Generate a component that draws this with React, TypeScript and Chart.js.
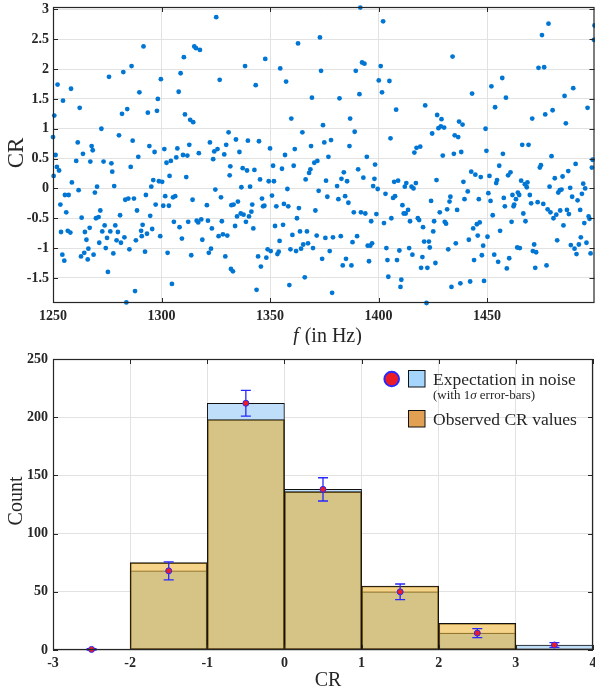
import React, { useEffect, useRef } from 'react';
import { Chart, registerables } from 'chart.js';

Chart.register(...registerables);

const SERIF = '"Liberation Serif", "Times New Roman", Times, serif';
const INK = '#262626';

// ---------- Top panel: CR vs frequency ----------
const freqSeg1 = [
  1250.0, 1250.3, 1250.6, 1251.2, 1251.8, 1252.1, 1252.8, 1253.4, 1253.7, 1254.3,
  1254.6, 1255.2, 1255.5, 1256.1, 1256.8, 1257.2, 1258.0, 1258.3, 1258.7, 1260.7,
  1261.4, 1261.8, 1262.3, 1262.9, 1263.2, 1263.8, 1264.4, 1264.7, 1265.4, 1266.0,
  1266.3, 1266.9, 1267.2, 1267.8, 1268.3, 1268.7, 1269.3, 1269.8, 1270.3, 1271.0,
  1271.3, 1271.8, 1272.3, 1272.7, 1273.3, 1273.8, 1274.3, 1274.9, 1275.3, 1275.8,
  1276.4, 1276.9, 1277.3, 1277.8, 1278.2, 1278.7, 1279.3, 1279.9, 1280.4, 1280.9,
  1281.3, 1281.8, 1282.4, 1282.9, 1283.3, 1283.8, 1284.2, 1284.7, 1285.2, 1285.8,
  1286.2, 1286.7, 1287.3, 1287.8, 1288.2, 1288.7, 1289.3, 1289.8,
];
const crSeg1 = [
  0.86, 0.21, 1.22, 0.56, 0.36, 1.74, 0.30, -0.27, -0.73, -1.11,
  1.47, -1.21, -0.11, -0.40, -0.71, -0.11, -0.74, 1.67, 0.10, 0.46,
  0.77, -0.03, 1.35, -1.14, -0.49, 0.58, -1.08, -0.73, -0.86, -1.19,
  -1.01, -0.66, 0.45, 0.71, 0.64, -1.11, -0.07, -0.50, 0.03, -0.48,
  -0.91, -0.37, 1.00, -0.72, 0.45, -0.62, -1.00, -0.83, -1.40, 1.87,
  -0.72, 0.42, 0.28, -1.09, 0.04, -0.62, -0.87, -0.73, 0.89, -0.45,
  -0.91, 1.25, 1.95, -0.82, -0.19, -1.91, 1.33, -0.17, -1.02, 0.36,
  2.05, 0.80, -0.17, -1.72, -0.87, -0.37, 0.53, 1.61,
];

const freqSeg2 = [
  1290.6, 1290.9, 1291.3, 1291.7, 1292.4, 1292.8, 1293.3, 1293.7, 1294.4, 1294.8,
  1295.3, 1295.7, 1296.2, 1296.8, 1297.3, 1297.9, 1298.3, 1298.8, 1299.4, 1299.7,
  1300.3, 1300.8, 1301.3, 1301.7, 1302.3, 1302.8, 1303.4, 1303.7, 1304.3, 1304.8,
  1305.3, 1305.7, 1306.3, 1306.8, 1307.3, 1307.9, 1308.3, 1308.8, 1309.4, 1309.9,
  1310.3, 1310.8, 1311.4, 1311.9, 1312.3, 1312.8, 1313.2, 1313.7, 1314.3, 1314.6,
  1315.1, 1315.9, 1316.2, 1316.9, 1317.2, 1317.7, 1318.3, 1318.8, 1320.9, 1321.4,
  1321.8, 1322.3, 1322.8, 1323.2, 1323.8, 1324.3, 1324.8, 1325.2, 1325.8, 1326.3,
  1326.8, 1327.4, 1327.8, 1328.3, 1328.9, 1329.4, 1329.8, 1330.3, 1330.9, 1331.4,
];
const crSeg2 = [
  -0.71, -0.80, -0.61, 2.38, -1.06, -0.11, -0.76, 1.27, 0.71, -0.46,
  0.03, -0.68, 0.14, 0.61, -0.27, 1.30, 1.50, 0.12, -0.80, 1.83,
  0.11, -0.29, 0.66, -0.13, 0.43, -1.08, -0.29, 0.21, 0.46, -1.60,
  -0.15, -0.56, -0.13, 0.52, 0.67, 1.62, -0.65, 1.93, -0.84, 0.56,
  2.20, 1.24, 0.19, 0.55, -0.56, 0.73, 1.15, -1.12, -0.19, 1.11,
  2.38, 2.35, -0.54, -0.57, 0.59, 2.32, -0.52, -0.86, -0.28, -0.54,
  -1.08, 0.77, -1.01, -0.67, 0.49, 0.62, -0.02, 2.87, 0.66, -0.80,
  1.82, -0.15, -0.55, -0.77, 0.57, -1.14, 0.73, -0.79, 0.94, 0.22,
];

const freqSeg3 = [
  1331.7, 1332.0, 1332.2, 1332.9, 1333.2, 1333.9, 1334.3, 1334.8, 1335.2, 1335.9,
  1336.5, 1336.8, 1337.4, 1337.8, 1338.5, 1338.9, 1339.4, 1339.8, 1340.3, 1340.8,
  1341.4, 1341.8, 1342.3, 1342.8, 1343.4, 1343.8, 1344.5, 1344.9, 1345.4, 1345.8,
  1346.3, 1346.8, 1347.4, 1347.8, 1348.3, 1348.9, 1349.4, 1350.0, 1350.3, 1350.9,
  1351.4, 1351.8, 1352.3, 1352.9, 1353.4, 1354.0, 1354.4, 1354.7, 1355.5, 1356.0,
  1356.4, 1356.9, 1357.4, 1358.0, 1358.4, 1358.9, 1359.4, 1359.8, 1360.3, 1360.9,
  1361.4, 1362.0, 1362.4, 1362.9, 1363.3, 1363.8, 1364.3, 1364.9, 1365.3, 1366.0,
  1366.4, 1367.0, 1367.5, 1368.0, 1368.6, 1368.9, 1369.3, 1369.8, 1370.4, 1370.9,
  1371.5, 1371.8, 1372.4, 1373.0,
];
const crSeg3 = [
  0.37, -1.35, -0.28, -1.39, -0.27, -0.63, 0.82, -0.47, -0.22, 0.61,
  -0.42, 0.02, 0.34, -0.44, 2.05, -0.56, 0.30, 0.80, -0.47, 0.03,
  -0.39, -0.27, -0.67, 0.31, 1.73, -1.70, -1.14, 0.79, 0.15, -1.31,
  -0.17, -0.30, -0.29, 2.17, -1.16, -1.02, 0.12, 0.67, -1.05, -0.12,
  0.38, 0.12, -0.63, -0.30, -1.10, -1.06, -0.88, 2.01, 0.33, -0.61,
  -0.26, 0.56, 1.79, -0.01, -0.30, -1.62, -1.02, 1.17, -0.78, 0.38,
  0.66, -1.05, -0.50, 2.43, -0.33, -0.72, -1.01, 0.94, -0.94, -1.49,
  0.15, -0.72, -0.92, 0.26, 0.32, 0.71, 1.52, -1.00, 0.43, -0.37,
  -0.79, 0.46, -0.04, 2.53,
];

const freqSeg4 = [
  1373.5, 1374.0, 1374.4, 1375.0, 1375.5, 1375.8, 1376.4, 1376.9, 1377.5, 1378.1,
  1378.6, 1379.0, 1380.9, 1381.5, 1382.0, 1382.6, 1382.9, 1383.5, 1384.0, 1384.6,
  1385.0, 1385.5, 1386.1, 1386.6, 1386.9, 1387.5, 1388.0, 1388.6, 1389.0, 1389.5,
  1390.1, 1390.6, 1391.2, 1391.6, 1391.9, 1392.4, 1393.0, 1393.5, 1393.9, 1394.6,
  1395.0, 1395.6, 1396.2, 1396.6, 1397.0, 1397.5, 1398.1, 1398.4, 1399.0, 1399.6,
  1400.1, 1401.0, 1401.6, 1402.1, 1402.5, 1403.2, 1403.6, 1404.1, 1404.5, 1405.0,
  1405.5, 1405.9, 1406.7, 1407.2, 1407.6, 1408.1, 1408.5, 1409.0, 1409.6, 1410.1,
  1410.5, 1411.0, 1411.6, 1412.1, 1412.5, 1412.8, 1413.6, 1414.1, 1414.5,
];
const crSeg4 = [
  1.97, -1.18, 1.06, 0.77, -0.83, 0.13, -0.14, 0.53, -1.05, 0.81,
  -1.75, -0.82, 0.04, -0.18, 1.51, -0.80, 0.16, -1.29, 0.27, -0.13,
  -1.18, 0.12, -0.24, 0.71, 1.17, -1.29, -0.90, -0.40, 0.95, 1.97,
  -0.80, 0.32, 1.58, 3.03, -0.40, 2.11, 0.18, 2.09, -0.42, 0.53,
  -0.96, -1.22, -0.96, -0.55, -0.92, 0.04, 0.16, 0.40, -0.43, -0.01,
  1.81, 2.05, 1.61, 2.80, -0.58, -0.09, -1.00, -1.20, -1.48, 1.80,
  0.84, -0.50, -0.16, 0.11, -0.13, 1.32, -1.20, 0.13, -1.04, -1.65,
  -1.53, -0.28, -0.42, 0.03, -0.42, 0.09, -0.36, -1.00, -0.55,
];

const freqSeg5 = [
  1415.2, 1415.6, 1416.1, 1416.5, 1417.2, 1417.5, 1418.1, 1418.7, 1419.2, 1419.6,
  1420.2, 1420.5, 1421.0, 1421.5, 1422.1, 1422.5, 1423.2, 1423.6, 1424.2, 1424.7,
  1425.2, 1425.6, 1426.2, 1426.7, 1427.0, 1427.6, 1428.2, 1428.7, 1429.0, 1429.6,
  1430.2, 1430.5, 1431.1, 1431.6, 1432.1, 1432.7, 1433.1, 1433.6, 1434.1, 1434.7,
  1435.1, 1435.6, 1436.2, 1436.7, 1437.1, 1437.7, 1438.1, 1438.7, 1439.1, 1439.6,
  1441.1, 1441.6, 1442.2, 1442.7, 1443.1, 1443.6, 1444.0, 1444.6, 1445.3, 1445.7,
  1446.2, 1446.6, 1447.1, 1447.6, 1448.2, 1448.6, 1449.3, 1449.7, 1450.2, 1450.6,
  1451.1, 1451.6, 1452.0, 1452.6, 1453.3, 1453.7, 1454.2, 1454.6, 1455.1, 1455.6,
  1456.0,
];
const crSeg5 = [
  0.03, -1.11, 0.00, 0.60, 0.09, 0.68, -0.50, -0.53, 0.70, -1.33,
  -1.15, -0.65, -0.89, 1.39, -1.92, -1.33, -0.89, -0.99, -0.21, 0.92,
  -0.72, -0.55, -1.25, 0.14, 1.23, 1.01, -0.40, 1.04, 1.16, 0.55,
  1.02, -0.56, -0.59, -0.35, -1.02, -0.22, -0.14, -1.65, 2.21, 0.58,
  0.89, -0.92, -0.36, 0.86, 1.12, -1.59, 0.61, 1.07, 0.11, -0.18,
  -0.05, -0.86, -1.56, 0.28, 1.59, -0.67, -1.20, 0.23, -0.60, -0.79,
  -0.18, -0.57, 0.19, -1.12, -0.96, -1.55, 1.00, 0.63, -0.81, -0.08,
  0.21, -0.21, 1.71, -0.45, -1.11, 1.36, 0.09, 0.14, -1.23, 0.38,
  -0.71,
];

const freqSeg6 = [
  1457.0, 1457.3, 1457.7, 1458.2, 1458.7, 1459.1, 1459.7, 1460.2, 1460.8, 1461.3,
  1461.7, 1462.2, 1462.5, 1463.3, 1463.9, 1464.2, 1464.8, 1465.1, 1465.7, 1466.2,
  1466.7, 1467.4, 1467.7, 1468.3, 1468.6, 1469.1, 1469.7, 1470.3, 1470.8, 1471.1,
  1471.7, 1472.2, 1472.6, 1473.3, 1473.7, 1474.3, 1474.8, 1475.3, 1475.9, 1476.3,
  1476.8, 1477.4, 1477.9, 1478.3, 1478.8, 1479.2, 1479.7, 1480.2, 1480.6, 1481.2,
  1481.9, 1482.3, 1482.8, 1483.5, 1483.7, 1484.3, 1484.8, 1485.2, 1485.7, 1486.3,
  1486.8, 1487.4, 1487.7, 1488.3, 1488.6, 1489.2, 1489.7, 1490.3, 1490.8, 1491.2,
  1491.7, 1492.3, 1492.9, 1493.2, 1493.7, 1494.3, 1494.8, 1495.2, 1495.8, 1496.3,
  1496.8, 1497.2, 1497.7, 1498.3, 1498.6, 1499.2, 1499.5,
];
const crSeg6 = [
  1.85, 0.58, -0.16, -0.30, 1.52, -1.34, 0.22, -1.17, 0.27, -0.56,
  -0.11, -0.30, -0.27, -0.18, -0.99, -0.07, -0.11, -1.00, 0.13, 0.73,
  -0.42, 0.07, -0.55, 0.02, 0.10, 0.73, -0.11, -0.25, 1.17, -1.05,
  -0.94, -1.33, -1.07, -0.23, 2.02, 0.35, 0.39, 2.57, -0.26, 2.03,
  1.24, -1.29, -0.35, 2.76, 0.03, -0.40, 0.54, 1.31, -0.50, 0.17,
  -0.44, -0.87, -0.07, -0.03, -0.37, -0.02, 0.20, -0.62, 1.55, 1.09,
  -0.36, 0.29, -0.43, 0.01, -0.95, -0.14, 1.68, -1.01, 0.41, -1.10,
  -0.20, -0.94, -0.36, -0.82, -0.09, 0.08, -0.58, 0.00, -0.91, 1.35,
  -0.47, -0.51, -1.09, 0.35, 0.48, 2.49, 2.73,
];

const freqTicks = [1250, 1300, 1350, 1400, 1450];
const crTicks = [-1.5, -1, -0.5, 0, 0.5, 1, 1.5, 2, 2.5, 3];

// ---------- Bottom panel: histogram ----------
const binCenters = [-2.5, -1.5, -0.5, 0.5, 1.5, 2.5, 3.5];
const expectedCounts = [0.5, 68, 212, 138, 50, 14.5, 4.3];
const expectedErr = [0.7, 7.7, 11, 10, 6.7, 3.8, 2.1];
const observedCounts = [0, 75, 198, 136, 55, 23, 1];
const histXTicks = [-3, -2, -1, 0, 1, 2, 3, 4];
const histYTicks = [0, 50, 100, 150, 200, 250];

const freqAll = [...freqSeg1, ...freqSeg2, ...freqSeg3, ...freqSeg4, ...freqSeg5, ...freqSeg6];
const crAll = [...crSeg1, ...crSeg2, ...crSeg3, ...crSeg4, ...crSeg5, ...crSeg6];

const tickFont = { family: SERIF, size: 14, weight: 'bold' as const };

function boxPlugin(id: string) {
  return {
    id,
    afterDatasetsDraw(chart: any) {
      const { ctx, chartArea: a, scales } = chart;
      ctx.save();
      ctx.strokeStyle = INK;
      ctx.lineWidth = 1;
      const tl = 5;
      ctx.beginPath();
      scales.x.ticks.forEach((t: any) => {
        const px = Math.round(scales.x.getPixelForValue(t.value)) + 0.5;
        ctx.moveTo(px, a.bottom); ctx.lineTo(px, a.bottom - tl);
        ctx.moveTo(px, a.top); ctx.lineTo(px, a.top + tl);
      });
      scales.y.ticks.forEach((t: any) => {
        const py = Math.round(scales.y.getPixelForValue(t.value)) + 0.5;
        ctx.moveTo(a.left, py); ctx.lineTo(a.left + tl, py);
        ctx.moveTo(a.right, py); ctx.lineTo(a.right - tl, py);
      });
      ctx.stroke();
      ctx.lineWidth = 1.2;
      ctx.strokeRect(a.left + 0.5, a.top + 0.5, a.right - a.left - 1, a.bottom - a.top - 1);
      ctx.restore();
    },
  };
}

const titlesTop = {
  id: 'titlesTop',
  afterDraw(chart: any) {
    const ctx = chart.ctx;
    ctx.save();
    ctx.fillStyle = INK;
    ctx.font = `23px ${SERIF}`;
    ctx.textAlign = 'center';
    ctx.textBaseline = 'alphabetic';
    ctx.translate(22.5, 153);
    ctx.rotate(-Math.PI / 2);
    ctx.fillText('CR', 0, 0);
    ctx.restore();

    ctx.save();
    ctx.fillStyle = INK;
    ctx.textBaseline = 'alphabetic';
    ctx.textAlign = 'left';
    ctx.font = `italic 20px ${SERIF}`;
    const w1 = ctx.measureText('f').width;
    ctx.font = `20px ${SERIF}`;
    const w2 = ctx.measureText(' (in Hz)').width;
    const x0 = 327 - (w1 + w2) / 2;
    ctx.font = `italic 20px ${SERIF}`;
    ctx.fillText('f', x0, 342);
    ctx.font = `20px ${SERIF}`;
    ctx.fillText(' (in Hz)', x0 + w1 + 1, 342);
    ctx.restore();
  },
};

const RED = 'rgb(236,28,36)';
const BLUE = 'rgb(40,40,255)';

const errorBars = {
  id: 'errorBars',
  beforeDatasetDraw(chart: any, args: any) {
    if (args.index !== 2) return;
    const { ctx, scales } = chart;
    ctx.save();
    ctx.strokeStyle = BLUE;
    ctx.lineWidth = 1.3;
    ctx.beginPath();
    binCenters.forEach((c, i) => {
      const x = scales.x.getPixelForValue(c);
      const yTop = scales.y.getPixelForValue(expectedCounts[i] + expectedErr[i]);
      const yBot = scales.y.getPixelForValue(Math.max(0, expectedCounts[i] - expectedErr[i]));
      ctx.moveTo(x, yTop); ctx.lineTo(x, yBot);
      ctx.moveTo(x - 5, yTop); ctx.lineTo(x + 5, yTop);
      ctx.moveTo(x - 5, yBot); ctx.lineTo(x + 5, yBot);
    });
    ctx.stroke();
    ctx.restore();
  },
};

const titlesBottom = {
  id: 'titlesBottom',
  afterDraw(chart: any) {
    const ctx = chart.ctx;
    ctx.save();
    ctx.fillStyle = INK;
    ctx.font = `20px ${SERIF}`;
    ctx.textAlign = 'center';
    ctx.textBaseline = 'alphabetic';
    ctx.translate(21.5, 156);
    ctx.rotate(-Math.PI / 2);
    ctx.fillText('Count', 0, 0);
    ctx.restore();

    ctx.save();
    ctx.fillStyle = INK;
    ctx.font = `20px ${SERIF}`;
    ctx.textAlign = 'center';
    ctx.textBaseline = 'alphabetic';
    ctx.fillText('CR', 328, 340.5);
    ctx.restore();

    // legend
    ctx.save();
    ctx.beginPath();
    ctx.arc(391.7, 34, 7.3, 0, Math.PI * 2);
    ctx.fillStyle = RED;
    ctx.fill();
    ctx.lineWidth = 2;
    ctx.strokeStyle = BLUE;
    ctx.stroke();

    ctx.lineWidth = 1;
    ctx.strokeStyle = '#111';
    ctx.fillStyle = 'rgb(165,213,252)';
    ctx.fillRect(408.5, 25.5, 16.5, 16.5);
    ctx.strokeRect(408.5, 25.5, 16.5, 16.5);
    ctx.fillStyle = 'rgb(226,160,82)';
    ctx.fillRect(408.5, 65.5, 16.5, 16.5);
    ctx.strokeRect(408.5, 65.5, 16.5, 16.5);

    ctx.fillStyle = INK;
    ctx.textAlign = 'left';
    ctx.textBaseline = 'alphabetic';
    ctx.font = `17.5px ${SERIF}`;
    ctx.fillText('Expectation in noise', 433, 40);
    ctx.fillText('Observed CR values', 433, 80);
    ctx.font = `13px ${SERIF}`;
    const a = '(with 1';
    ctx.fillText(a, 433, 54);
    let x = 433 + ctx.measureText(a).width;
    ctx.font = `italic 13px ${SERIF}`;
    ctx.fillText('σ', x, 54);
    x += ctx.measureText('σ').width;
    ctx.font = `13px ${SERIF}`;
    ctx.fillText(' error-bars)', x, 54);
    ctx.restore();
  },
};

export default function App() {
  const topRef = useRef<HTMLCanvasElement>(null);
  const botRef = useRef<HTMLCanvasElement>(null);

  useEffect(() => {
    const n = Math.min(freqAll.length, crAll.length);
    const points = [];
    for (let i = 0; i < n; i++) points.push({ x: freqAll[i], y: crAll[i] });

    const gridColor = '#e2e2e2';

    const topChart = new Chart(topRef.current as HTMLCanvasElement, {
      type: 'scatter',
      data: {
        datasets: [
          {
            label: 'CR',
            data: points,
            pointRadius: 2.4,
            pointBackgroundColor: 'rgb(0,118,212)',
            pointBorderWidth: 0,
            clip: false as any,
          },
        ],
      },
      options: {
        responsive: false,
        animation: false,
        devicePixelRatio: 1,
        events: [],
        layout: { padding: { left: 0, top: 7, right: 0.5, bottom: 0 }, autoPadding: false } as any,
        plugins: { legend: { display: false }, tooltip: { enabled: false } },
        scales: {
          x: {
            type: 'linear',
            min: 1250,
            max: 1499.5,
            afterBuildTicks: (s: any) => { s.ticks = freqTicks.map((v) => ({ value: v })); },
            afterFit: (s: any) => { s.height = 42; s.paddingLeft = 0; s.paddingRight = 0; },
            grid: { color: gridColor, drawTicks: false },
            border: { display: false },
            ticks: { font: tickFont, color: INK, padding: 5, autoSkip: false, maxRotation: 0, callback: (v: any) => String(v) },
          },
          y: {
            type: 'linear',
            min: -1.92,
            max: 3.04,
            afterBuildTicks: (s: any) => { s.ticks = crTicks.map((v) => ({ value: v })); },
            afterFit: (s: any) => { s.width = 53; s.paddingTop = 0; s.paddingBottom = 0; },
            grid: { color: gridColor, drawTicks: false },
            border: { display: false },
            ticks: { font: tickFont, color: INK, padding: 4, autoSkip: false, callback: (v: any) => String(v) },
          },
        },
      },
      plugins: [boxPlugin('boxTop'), titlesTop],
    });

    const botChart = new Chart(botRef.current as HTMLCanvasElement, {
      type: 'bar',
      data: {
        datasets: [
          {
            type: 'bar',
            label: 'Expectation in noise',
            data: binCenters.map((c, i) => ({ x: c, y: expectedCounts[i] })),
            backgroundColor: 'rgb(190,222,249)',
            borderColor: '#111',
            borderWidth: 1,
            borderSkipped: false,
            barPercentage: 1,
            categoryPercentage: 1,
            grouped: false,
            order: 2,
          } as any,
          {
            type: 'bar',
            label: 'Observed CR values',
            data: binCenters.map((c, i) => ({ x: c, y: observedCounts[i] })),
            backgroundColor: 'rgba(235,170,20,0.5)',
            borderColor: '#111',
            borderWidth: 1,
            borderSkipped: false,
            barPercentage: 1,
            categoryPercentage: 1,
            grouped: false,
            order: 1,
          } as any,
          {
            type: 'scatter',
            label: 'Expectation points',
            data: binCenters.map((c, i) => ({ x: c, y: expectedCounts[i] })),
            pointRadius: 3,
            pointBackgroundColor: RED,
            pointBorderColor: BLUE,
            pointBorderWidth: 1,
            clip: false,
            order: 0,
          } as any,
        ],
      },
      options: {
        responsive: false,
        animation: false,
        devicePixelRatio: 1,
        events: [],
        layout: { padding: { left: 0, top: 14, right: 2, bottom: 0 }, autoPadding: false } as any,
        plugins: { legend: { display: false }, tooltip: { enabled: false } },
        scales: {
          x: {
            type: 'linear',
            min: -3,
            max: 4,
            offset: false,
            afterBuildTicks: (s: any) => { s.ticks = histXTicks.map((v) => ({ value: v })); },
            afterFit: (s: any) => { s.height = 41; s.paddingLeft = 0; s.paddingRight = 0; },
            grid: { color: gridColor, drawTicks: false, offset: false },
            border: { display: false },
            ticks: { font: tickFont, color: INK, padding: 5, autoSkip: false, maxRotation: 0, callback: (v: any) => String(v) },
          },
          y: {
            type: 'linear',
            min: 0,
            max: 250,
            afterBuildTicks: (s: any) => { s.ticks = histYTicks.map((v) => ({ value: v })); },
            afterFit: (s: any) => { s.width = 53; s.paddingTop = 0; s.paddingBottom = 0; },
            grid: { color: gridColor, drawTicks: false },
            border: { display: false },
            ticks: { font: tickFont, color: INK, padding: 5, autoSkip: false, callback: (v: any) => String(v) },
          },
        },
      },
      plugins: [boxPlugin('boxBottom'), errorBars, titlesBottom],
    });

    return () => {
      topChart.destroy();
      botChart.destroy();
    };
  }, []);

  return (
    <div style={{ position: 'absolute', left: 0, top: 0, width: 595, height: 691, background: '#ffffff' }}>
      <canvas
        ref={topRef}
        width={595}
        height={345}
        style={{ position: 'absolute', left: 0, top: 0, width: 595, height: 345 }}
      />
      <canvas
        ref={botRef}
        width={595}
        height={346}
        style={{ position: 'absolute', left: 0, top: 345, width: 595, height: 346 }}
      />
    </div>
  );
}
